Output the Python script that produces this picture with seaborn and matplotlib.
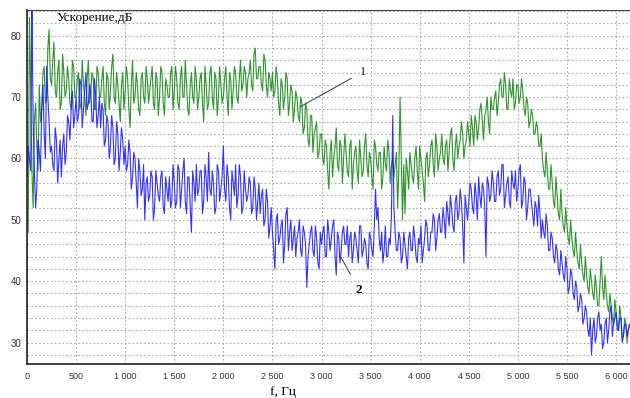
import numpy as np
import pandas as pd
import seaborn as sns
import matplotlib.pyplot as plt
from matplotlib.ticker import MultipleLocator, FuncFormatter

# frequency grid (Hz): main samples every 25 Hz, in-between samples at +12.5 Hz
freq = np.arange(0, 6150, 25)
freq_mid = freq + 12.5

# series 1 (green), dB, at freq
green = [
    50, 83, 58, 66, 62, 72, 68, 75, 70, 81,
    72, 79, 70, 76, 69, 74, 71, 73, 68, 75,
    70, 74, 69, 72, 67, 76, 71, 73, 68, 74,
    70, 75, 67, 73, 71, 77, 69, 72, 66, 74,
    71, 73, 65, 76, 70, 72, 67, 74, 69, 73,
    71, 75, 68, 73, 70, 74, 67, 72, 70, 75,
    71, 73, 68, 75, 70, 72, 67, 74, 69, 73,
    70, 74, 66, 72, 69, 75, 68, 73, 70, 72,
    70, 75, 67, 73, 71, 74, 69, 76, 72, 74,
    73, 76, 71, 78, 73, 75, 71, 76, 70, 73,
    74, 71, 73, 67, 72, 70, 73, 69, 71, 68,
    70, 66, 69, 65, 68, 62, 67, 64, 66, 61,
    64, 59, 62, 55, 63, 60, 65, 58, 62, 60,
    61, 57, 63, 59, 62, 56, 60, 58, 64, 57,
    60, 55, 62, 58, 61, 57, 59, 63, 56, 60,
    59, 52, 70, 50, 51, 58, 61, 57, 60, 58,
    62, 58, 53, 61, 59, 63, 57, 62, 60, 64,
    59, 63, 61, 65, 58, 64, 62, 66, 60, 63,
    64, 67, 62, 66, 65, 69, 63, 68, 66, 70,
    68, 71, 69, 73, 70, 72, 68, 71, 73, 69,
    72, 70, 71, 67, 69, 66, 67, 64, 65, 62,
    60, 57, 58, 55, 56, 52, 54, 50, 51, 48,
    49, 46, 47, 44, 45, 42, 43, 40, 41, 38,
    40, 37, 39, 36, 44, 37, 38, 35, 36, 33,
    35, 32, 34, 31, 33, 32,
]

# series 1 (green), dB, at freq_mid
green_mid = [
    48, 72, 52, 69, 58, 66, 74, 69, 78, 73,
    76, 71, 74, 68, 77, 70, 75, 69, 76, 70,
    73, 68, 76, 70, 73, 69, 74, 68, 75, 70,
    73, 69, 74, 68, 75, 70, 74, 69, 72, 68,
    75, 68, 72, 69, 74, 68, 73, 70, 75, 69,
    73, 69, 74, 67, 75, 69, 73, 70, 74, 68,
    75, 69, 73, 70, 76, 68, 72, 70, 75, 68,
    73, 69, 75, 68, 74, 70, 74, 67, 75, 69,
    73, 70, 74, 68, 75, 70, 73, 71, 75, 70,
    74, 72, 77, 73, 75, 72, 77, 72, 74, 71,
    70, 75, 69, 73, 68, 74, 67, 72, 66, 71,
    67, 70, 64, 69, 63, 67, 61, 65, 60, 64,
    60, 63, 58, 61, 57, 62, 59, 63, 56, 64,
    58, 62, 55, 61, 58, 63, 57, 62, 59, 61,
    57, 63, 59, 61, 55, 62, 58, 61, 59, 57,
    61, 58, 60, 59, 60, 55, 59, 56, 62, 55,
    60, 56, 60, 57, 62, 59, 64, 58, 61, 60,
    62, 58, 64, 60, 62, 60, 63, 64, 62, 66,
    62, 65, 67, 63, 68, 66, 67, 70, 64, 68,
    70, 67, 72, 70, 74, 68, 73, 70, 68, 72,
    69, 73, 68, 70, 65, 68, 64, 66, 62, 64,
    58, 61, 55, 59, 53, 57, 51, 55, 49, 52,
    47, 50, 45, 48, 43, 46, 41, 44, 39, 42,
    38, 41, 36, 40, 39, 41, 36, 38, 34, 37,
    33, 36, 31, 34, 30, 33,
]

# series 2 (blue), dB, at freq
blue = [
    57, 60, 86, 58, 55, 61, 68, 64, 75, 66,
    62, 58, 63, 60, 57, 64, 61, 66, 68, 65,
    70, 67, 72, 68, 74, 69, 71, 66, 70, 67,
    65, 68, 63, 66, 62, 65, 60, 64, 61, 63,
    62, 59, 61, 57, 60, 52, 58, 55, 50, 57,
    54, 57, 52, 56, 53, 58, 51, 55, 57, 53,
    56, 53, 58, 55, 60, 51, 57, 48, 56, 59,
    55, 58, 53, 57, 61, 54, 56, 52, 58, 55,
    62, 53, 57, 50, 56, 59, 54, 57, 52, 55,
    54, 56, 52, 55, 53, 51, 55, 50, 53, 49,
    48, 42, 51, 47, 50, 46, 52, 48, 45, 49,
    47, 50, 44, 48, 39, 46, 49, 44, 47, 42,
    46, 49, 44, 48, 47, 50, 41, 47, 45, 49,
    46, 44, 48, 45, 47, 43, 49, 45, 46, 42,
    47, 44, 55, 52, 45, 43, 49, 44, 46, 67,
    48, 45, 47, 44, 46, 42, 48, 45, 47, 43,
    46, 43, 47, 49, 45, 48, 50, 47, 51, 48,
    50, 53, 49, 52, 48, 54, 51, 53, 43, 52,
    53, 55, 51, 54, 57, 52, 55, 44, 56, 54,
    56, 53, 58, 55, 59, 54, 57, 52, 56, 58,
    55, 59, 53, 56, 52, 55, 51, 53, 49, 51,
    50, 47, 49, 45, 47, 43, 45, 41, 43, 40,
    42, 39, 41, 37, 39, 36, 37, 34, 35, 31,
    28, 34, 31, 35, 33, 30, 34, 32, 36, 33,
    35, 32, 34, 31, 33, 32,
]

# series 2 (blue), dB, at freq_mid
blue_mid = [
    62, 58, 66, 52, 63, 58, 72, 60, 70, 61,
    59, 65, 56, 63, 62, 59, 67, 63, 71, 67,
    66, 73, 65, 71, 68, 72, 66, 73, 65, 70,
    69, 62, 67, 60, 67, 59, 66, 58, 65, 59,
    58, 63, 55, 61, 56, 60, 54, 59, 56, 53,
    58, 50, 58, 54, 57, 52, 57, 53, 52, 59,
    52, 59, 52, 58, 53, 57, 52, 58, 53, 54,
    58, 51, 59, 53, 55, 58, 51, 59, 53, 57,
    55, 59, 52, 58, 54, 52, 59, 51, 58, 53,
    57, 51, 57, 50, 56, 54, 49, 55, 47, 52,
    45, 50, 46, 49, 43, 51, 45, 50, 47, 44,
    48, 45, 49, 46, 44, 48, 45, 49, 43, 48,
    48, 44, 50, 45, 49, 44, 48, 43, 48, 46,
    49, 47, 43, 48, 45, 49, 44, 47, 43, 48,
    45, 49, 50, 47, 48, 45, 44, 47, 51, 52,
    45, 48, 43, 48, 44, 47, 45, 49, 44, 47,
    49, 45, 50, 45, 48, 51, 45, 50, 48, 52,
    47, 51, 54, 49, 53, 50, 55, 49, 54, 50,
    56, 52, 56, 50, 54, 56, 52, 57, 53, 58,
    53, 57, 54, 59, 52, 56, 53, 58, 55, 53,
    58, 52, 57, 50, 55, 53, 49, 52, 54, 47,
    48, 51, 45, 48, 44, 46, 42, 45, 41, 44,
    38, 42, 38, 40, 35, 38, 33, 36, 32, 34,
    32, 30, 34, 32, 29, 33, 30, 35, 31, 34,
    32, 34, 30, 33, 31, 33,
]

series_names = ['1', '2']
y_ticks = [30, 40, 50, 60, 70, 80]

sns.set_style('white')
plt.rcParams['font.family'] = ['Liberation Sans', 'DejaVu Sans']

# interleave main and in-between samples
f_all = np.column_stack([freq, freq_mid]).ravel()
g_all = np.column_stack([green, green_mid]).ravel()
b_all = np.column_stack([blue, blue_mid]).ravel()
n = len(f_all)
df = pd.DataFrame({
    'f': np.concatenate([f_all, f_all]),
    'dB': np.concatenate([g_all, b_all]),
    'series': [series_names[0]] * n + [series_names[1]] * n,
})

fig = plt.figure(figsize=(6.3, 3.98), dpi=100)
ax = fig.add_axes([27 / 630, 34 / 398, 603 / 630, 354 / 398])

sns.lineplot(data=df, x='f', y='dB', hue='series',
             palette={'1': '#168a16', '2': '#1c1cff'},
             linewidth=0.8, alpha=0.9, legend=False, ax=ax, estimator=None, sort=False)

ax.set_xlim(0, 6142)
ax.set_ylim(26.5, 84.2)

ax.xaxis.set_major_locator(MultipleLocator(500))
ax.xaxis.set_minor_locator(MultipleLocator(100))
ax.set_yticks(y_ticks, minor=False)
ax.yaxis.set_minor_locator(MultipleLocator(2))
ax.xaxis.set_major_formatter(FuncFormatter(lambda v, p: f"{int(v):,}".replace(',', ' ')))

grid_kw = dict(color='#a8a8a8', linestyle=(0, (1.5, 2)), linewidth=0.8)
ax.grid(True, which='major', axis='x', **grid_kw)
ax.grid(True, which='minor', axis='y', **grid_kw)
ax.grid(True, which='major', axis='y', **grid_kw)

ax.tick_params(axis='x', which='major', labelsize=6.5, colors='#333333', length=2, direction='in', pad=6)
ax.tick_params(axis='x', which='minor', length=1.5, direction='in', colors='#555555')
ax.tick_params(axis='y', which='both', labelsize=7, colors='#333333', length=0, pad=4)
ax.set_xlabel('')
ax.set_ylabel('')

ax.spines['right'].set_visible(False)
ax.spines['left'].set_color('#222222')
ax.spines['bottom'].set_color('#222222')
ax.spines['top'].set_color('#444444')
ax.spines['left'].set_linewidth(1.2)
ax.spines['bottom'].set_linewidth(1.2)
ax.spines['top'].set_linewidth(0.8)

fig.text(57 / 630, 1 - 18 / 398, 'Ускорение,дБ', family=['Liberation Serif', 'DejaVu Serif'],
         fontsize=9.5, va='center', ha='left', color='black')
fig.text(283 / 630, 1 - 392 / 398, 'f, Гц', family=['Liberation Serif', 'DejaVu Serif'],
         fontsize=9.5, va='center', ha='center', color='black')

ax.annotate('1', xy=(2780, 68.4), xytext=(3420, 74.1),
            fontsize=9, family=['Liberation Serif'], color='#4a1a10', va='center', ha='center',
            arrowprops=dict(arrowstyle='-', color='#333333', lw=0.7, shrinkA=4, shrinkB=0))
ax.annotate('2', xy=(3195, 44.0), xytext=(3381, 38.6),
            fontsize=9.5, family=['Liberation Serif'], fontweight='bold', color='black',
            va='center', ha='center',
            arrowprops=dict(arrowstyle='-', color='#333333', lw=0.7, shrinkA=5, shrinkB=0))

fig.savefig('out.png', dpi=100)
